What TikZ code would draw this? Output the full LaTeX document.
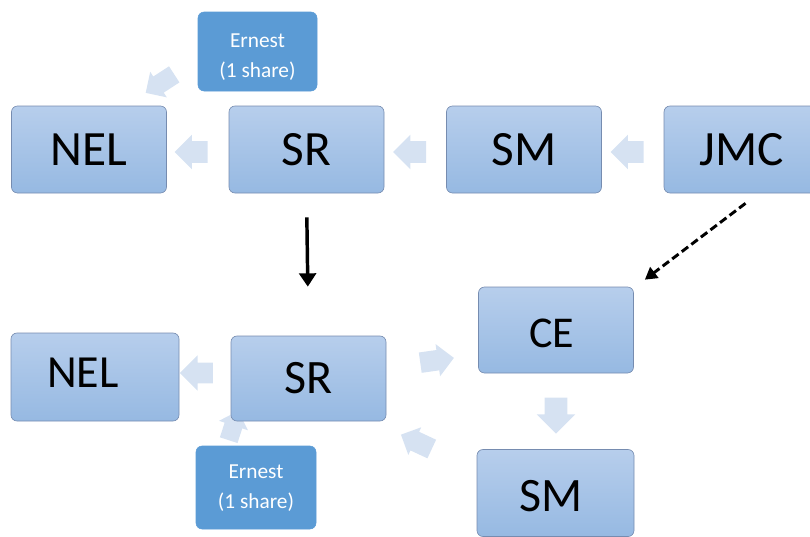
\documentclass[tikz,border=0pt]{standalone}
\usepackage{fontspec}
\setmainfont{Carlito}
\usetikzlibrary{shapes.arrows,arrows.meta}
\definecolor{boxtop}{RGB}{183,206,236}
\definecolor{boxbot}{RGB}{150,185,226}
\definecolor{boxline}{RGB}{118,140,176}
\definecolor{ernestfill}{RGB}{91,155,213}
\definecolor{arrowfill}{RGB}{214,226,242}
\tikzset{
  bigbox/.style={rectangle, rounded corners=4.5pt, draw=boxline, line width=0.5pt,
    top color=boxtop, bottom color=boxbot, minimum width=116.25pt, minimum height=65.25pt,
    inner sep=0pt, font=\fontsize{37}{44}\selectfont},
  ernestbox/.style={rectangle, rounded corners=4.5pt, fill=ernestfill, draw=ernestfill,
    minimum width=89.25pt, minimum height=59.25pt, inner sep=0pt},
  ernesttext/.style={inner sep=0pt, align=center, text=white,
    font=\fontsize{16}{22.5}\selectfont},
  bigtext/.style={inner sep=0pt, font=\fontsize{36}{43}\selectfont},
  blockarrow/.style={single arrow, fill=arrowfill, draw=none, inner xsep=0pt,
    single arrow head indent=0pt},
  thinarrow/.style={line width=2.6pt, -{Triangle[length=10pt,width=12.5pt]}},
  dasharrow/.style={line width=2.2pt, dash pattern=on 6pt off 3pt, -{Triangle[length=9pt,width=10pt]}}
}
\begin{document}
\begin{tikzpicture}[x=0.75pt,y=-0.75pt]
\useasboundingbox (0,0) rectangle (810,536);
\clip (0,0) rectangle (810,536);
% block arrows (SmartArt connectors)
\node[blockarrow, minimum height=25.5pt, minimum width=22.5pt, inner ysep=7pt,
  single arrow head extend=4.25pt, rotate=213] (a1) at (164,81) {};
\node[blockarrow, minimum height=24.75pt, minimum width=25.5pt, inner ysep=7.9pt,
  single arrow head extend=4.9pt, rotate=180] (a2) at (196.5,152) {};
\node[blockarrow, minimum height=24.75pt, minimum width=25.5pt, inner ysep=7.9pt,
  single arrow head extend=4.9pt, rotate=180] (a3) at (415,152) {};
\node[blockarrow, minimum height=24.75pt, minimum width=25.5pt, inner ysep=7.9pt,
  single arrow head extend=4.9pt, rotate=180] (a4) at (632.5,152) {};
\node[blockarrow, minimum height=24.75pt, minimum width=26.25pt, inner ysep=7.5pt,
  single arrow head extend=5.6pt, rotate=180] (a5) at (201.5,373) {};
\node[blockarrow, minimum height=23pt, minimum width=22.5pt, inner ysep=6.75pt,
  single arrow head extend=4.5pt, rotate=72] (a6) at (232,430) {};
\node[blockarrow, minimum height=25.5pt, minimum width=24pt, inner ysep=7.5pt,
  single arrow head extend=4.5pt, rotate=8] (a7) at (432,361) {};
\node[blockarrow, minimum height=27pt, minimum width=28.5pt, inner ysep=8.25pt,
  single arrow head extend=6pt, rotate=270] (a8) at (556,410) {};
\node[blockarrow, minimum height=25.5pt, minimum width=22.5pt, inner ysep=7.5pt,
  single arrow head extend=3.75pt, rotate=155] (a9) at (421,444) {};
% top row
\node[ernestbox] (ernT) at (257.5,51.5) {};
\node[ernesttext] (ernTt) at ([shift={(0,6)}]ernT.center) {Ernest\\(1 share)};
\node[bigbox] (nelT) at (89,149.5) {NEL};
\node[bigbox] (srT) at (306.5,149.5) {SR};
\node[bigbox] (smT) at (524,149.5) {SM};
\node[bigbox] (jmc) at (741.5,149.5) {JMC};
% bottom part
\node[bigbox, minimum width=126pt, minimum height=66pt] (nelB) at (95,377) {};
\node[bigtext, font=\fontsize{34.5}{41}\selectfont] (nelBt) at ([shift={(-12,-4)}]nelB.center) {NEL};
\node[bigbox, minimum height=63.75pt, font=\fontsize{36}{43}\selectfont] (srB) at (308.5,378.5) {SR};
\node[ernestbox, minimum width=90pt, minimum height=62.25pt] (ernB) at (256,487.5) {};
\node[ernesttext] (ernBt) at ([shift={(0,1)}]ernB.center) {Ernest\\(1 share)};
\node[bigbox, minimum height=64.5pt] (ce) at (556,330) {};
\node[bigtext, font=\fontsize{33}{40}\selectfont] (cet) at ([shift={(-4,3)}]ce.center) {CE};
\node[bigbox, minimum width=117.75pt] (smB) at (555.5,493) {};
\node[bigtext] (smBt) at ([shift={(-4,3)}]smB.center) {SM};
% connectors
\draw[thinarrow, shorten <=18pt, shorten >=36.75pt] (srT.south) -- (srB.north);
\draw[dasharrow] ([shift={(4,10)}]jmc.south) -- ([shift={(11,-7)}]ce.north east);
\end{tikzpicture}
\end{document}
